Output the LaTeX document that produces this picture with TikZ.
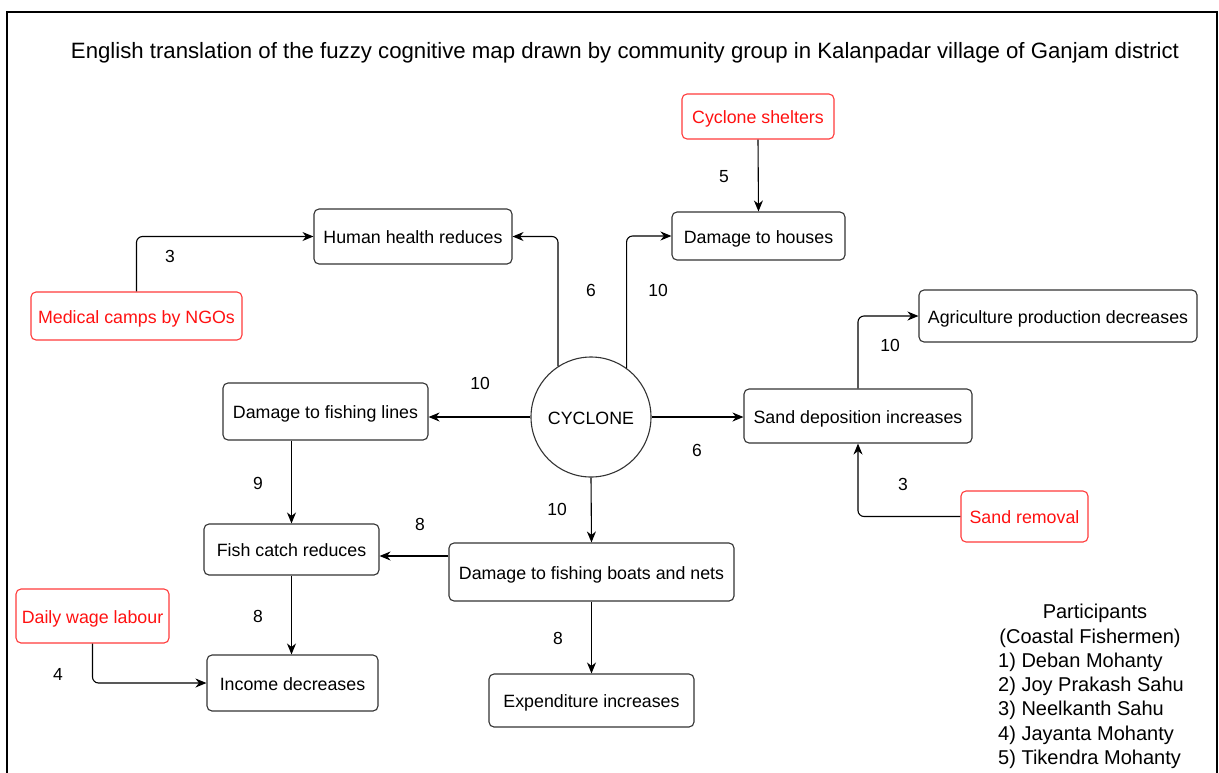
\documentclass[tikz,border=0pt]{standalone}
\usepackage{fontspec}
\setmainfont{Liberation Sans}
\usetikzlibrary{arrows.meta,calc}
\definecolor{boxline}{HTML}{333333}
\definecolor{redline}{HTML}{FF3B3B}
\definecolor{redtext}{HTML}{FF1111}
\tikzset{
  box/.style={draw=boxline, line width=1.1pt, rounded corners=5pt, inner sep=0pt,
    align=center, font=\fontsize{17.8}{20}\selectfont, text=black,
    text height=14pt, text depth=0pt},
  redbox/.style={box, draw=redline, text=redtext},
  hub/.style={draw=boxline, line width=1.1pt, circle, minimum size=120pt, inner sep=0pt,
    font=\fontsize{17.8}{20}\selectfont, text height=14pt, text depth=0pt},
  link/.style={draw=black, line width=1.1pt, rounded corners=6pt,
    -{Stealth[length=11pt,width=9pt,inset=3.5pt]}},
  weight/.style={font=\fontsize{17.5}{20}\selectfont, inner sep=0pt},
  person/.style={font=\fontsize{20}{24}\selectfont, inner sep=0pt, anchor=base west},
}
\begin{document}
\begin{tikzpicture}[x=1pt,y=-1pt]
\useasboundingbox (0,0) rectangle (1219,772);
\clip (0,0) rectangle (1219,772);
\fill[white] (0,0) rectangle (1219,772);
% outer frame
\draw[line width=1.3pt] (7,800) -- (7,12) -- (1217,12) -- (1217,800);

% title
\node[font=\fontsize{22.2}{26}\selectfont, inner sep=0pt] (title) at (625,53)
  {English translation of the fuzzy cognitive map drawn by community group in Kalanpadar village of Ganjam district};

% concepts
\node[hub] (cyc) at (591,417) {CYCLONE};
\node[redbox, minimum width=152pt, minimum height=45pt] (shelter) at (758,116.5) {Cyclone shelters};
\node[box, minimum width=173pt, minimum height=48pt] (houses) at (758.5,236) {Damage to houses};
\node[box, minimum width=198pt, minimum height=55pt] (health) at (413,236.5) {Human health reduces};
\node[redbox, minimum width=211pt, minimum height=48pt] (medical) at (136.5,316) {Medical camps by NGOs};
\node[box, minimum width=278pt, minimum height=52pt] (agri) at (1058,316) {Agriculture production decreases};
\node[box, minimum width=205pt, minimum height=57pt] (lines) at (325.5,411.5) {Damage to fishing lines};
\node[box, minimum width=228pt, minimum height=54pt] (sanddep) at (858,416) {Sand deposition increases};
\node[redbox, minimum width=127pt, minimum height=51pt] (sandrem) at (1024.5,516.5) {Sand removal};
\node[box, minimum width=175pt, minimum height=51pt] (fish) at (291.5,549.5) {Fish catch reduces};
\node[box, minimum width=285pt, minimum height=58pt] (boats) at (591.5,572) {Damage to fishing boats and nets};
\node[redbox, minimum width=153pt, minimum height=54pt] (wage) at (92.5,616) {Daily wage labour};
\node[box, minimum width=171pt, minimum height=56pt] (income) at (292.5,683) {Income decreases};
\node[box, minimum width=205pt, minimum height=53pt] (expend) at (591.5,700.5) {Expenditure increases};

% connectors
\draw[link] (cyc.123.4) |- (health.east);
\draw[link] (cyc.54.3) |- (houses.west);
\draw[link] (shelter.south) -- (houses.north);
\draw[link] (medical.north) |- (health.west);
\draw[link] (cyc.west) -- (cyc.west -| lines.east);
\draw[link] (cyc.east) -- (cyc.east -| sanddep.west);
\draw[link] (sanddep.north) |- (agri.west);
\draw[link] (sandrem.west) -| (sanddep.south);
\draw[link] (cyc.south) -- (boats.north);
\draw[link] (lines.south -| fish.north) -- (fish.north);
\coordinate (boatsout) at ($(boats.west)+(0,-16)$);
\draw[link] (boatsout) -- (boatsout -| fish.east);
\draw[link] (fish.south) -- (fish.south |- income.north);
\draw[link] (wage.south) |- (income.west);
\draw[link] (boats.south) -- (expend.north);

% weights
\node[weight] (w1) at (591,290) {6};
\node[weight] (w2) at (658,290) {10};
\node[weight] (w3) at (724,177) {5};
\node[weight] (w4) at (170,256) {3};
\node[weight] (w5) at (480,383) {10};
\node[weight] (w6) at (697,450) {6};
\node[weight] (w7) at (890,345) {10};
\node[weight] (w8) at (903,484) {3};
\node[weight] (w9) at (557,509) {10};
\node[weight] (w10) at (258,483) {9};
\node[weight] (w11) at (420,524) {8};
\node[weight] (w12) at (258,616) {8};
\node[weight] (w13) at (58,674) {4};
\node[weight] (w14) at (558,638) {8};

% participants
\node[font=\fontsize{20}{24}\selectfont, inner sep=0pt, anchor=base] (phead1) at (1095,618) {Participants};
\node[font=\fontsize{20}{24}\selectfont, inner sep=0pt, anchor=base] (phead2) at (1090,643) {(Coastal Fishermen)};
\node[person] (p1) at (998,667) {1) Deban Mohanty};
\node[person] (p2) at (998,691.5) {2) Joy Prakash Sahu};
\node[person] (p3) at (998,715.5) {3) Neelkanth Sahu};
\node[person] (p4) at (998,740) {4) Jayanta Mohanty};
\node[person] (p5) at (998,764) {5) Tikendra Mohanty};
\end{tikzpicture}
\end{document}
